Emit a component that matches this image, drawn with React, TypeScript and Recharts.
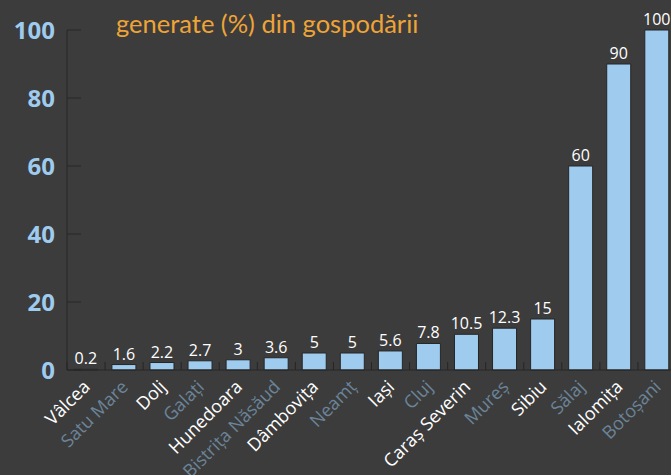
import { BarChart, Bar, XAxis, YAxis, LabelList } from 'recharts';

const counties = [
  'Vâlcea', 'Satu Mare', 'Dolj', 'Galați', 'Hunedoara', 'Bistrița Năsăud', 'Dâmbovița', 'Neamț',
  'Iași', 'Cluj', 'Caraș Severin', 'Mureș', 'Sibiu', 'Sălaj', 'Ialomița', 'Botoșani',
];
const shares = [0.2, 1.6, 2.2, 2.7, 3, 3.6, 5, 5, 5.6, 7.8, 10.5, 12.3, 15, 60, 90, 100];
const yTicks = [0, 20, 40, 60, 80, 100];

const data = counties.map((name, i) => ({ name, value: shares[i] }));

const W = 671;
const H = 475;
const AXIS_W = 67;
const RIGHT = -5; // last bar's band runs a little past the right edge
const band = (W - RIGHT - AXIS_W) / counties.length;

const CountyTick = (props: any) => {
  const { x, y, payload, index } = props;
  const color = index % 2 === 0 ? '#ffffff' : '#6b8499';
  const tx = x + 5;
  const ty = y + 18;
  return (
    <g>
      <line x1={x - band / 2} x2={x - band / 2} y1={y - 8} y2={y} stroke="#262626" strokeWidth={1} />
      <text
        x={tx}
        y={ty}
        textAnchor="end"
        fill={color}
        fontSize={18}
        fontFamily="'Open Sans', sans-serif"
        transform={`rotate(-45, ${tx}, ${ty})`}
      >
        {payload.value}
      </text>
    </g>
  );
};

export default function App() {
  return (
    <div style={{ position: 'relative', width: W, height: H, background: '#3c3c3c', overflow: 'hidden' }}>
      <style>{'body{margin:0}'}</style>
      <div
        style={{
          position: 'absolute',
          left: 116,
          top: 8,
          color: '#eea437',
          fontFamily: 'Lato, sans-serif',
          fontSize: 25.5,
          whiteSpace: 'nowrap',
        }}
      >
        generate (%) din gospodării
      </div>
      <BarChart
        width={W}
        height={H}
        data={data}
        margin={{ top: 30, right: RIGHT, left: 0, bottom: 0 }}
        barCategoryGap="18%"
        style={{ overflow: 'visible' }}
      >
        <XAxis
          dataKey="name"
          interval={0}
          height={105}
          tickLine={false}
          tickSize={0}
          tickMargin={0}
          axisLine={{ stroke: '#262626' }}
          tick={<CountyTick />}
        />
        <YAxis
          domain={[0, 100]}
          ticks={yTicks}
          width={AXIS_W}
          axisLine={{ stroke: '#262626' }}
          tickLine={{ stroke: '#262626' }}
          tickSize={-14}
          tickMargin={26}
          tick={{ fill: '#9ecbee', fontSize: 24, fontWeight: 700, fontFamily: "'Open Sans', sans-serif" }}
        />
        <Bar dataKey="value" fill="#9ecbee" stroke="#262626" strokeWidth={1} isAnimationActive={false}>
          <LabelList
            dataKey="value"
            position="top"
            offset={5}
            fill="#ffffff"
            fontSize={16}
            fontFamily="'Open Sans', sans-serif"
          />
        </Bar>
      </BarChart>
    </div>
  );
}
